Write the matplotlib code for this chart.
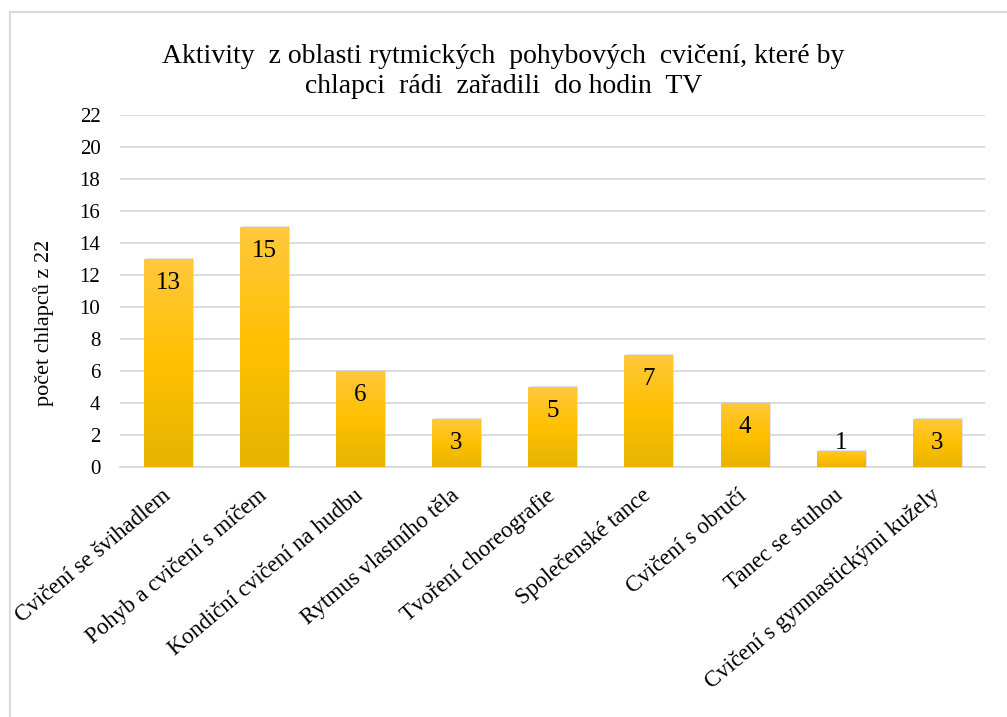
import matplotlib.pyplot as plt
import numpy as np
from matplotlib.colors import LinearSegmentedColormap
from matplotlib.patches import Rectangle

plt.rcParams['font.family'] = ['Liberation Serif', 'DejaVu Serif']

aktivity = ['Cvičení se švihadlem', 'Pohyb a cvičení s míčem', 'Kondiční cvičení na hudbu',
            'Rytmus vlastního těla', 'Tvoření choreografie', 'Společenské tance',
            'Cvičení s obručí', 'Tanec se stuhou', 'Cvičení s gymnastickými kužely']
pocty = [13, 15, 6, 3, 5, 7, 4, 1, 3]
y_ticks = list(range(0, 23, 2))

fig = plt.figure(figsize=(10.07, 7.17), dpi=100)
ax = fig.add_axes([0.119, 0.349, 0.859, 0.491])

x = np.arange(len(aktivity))
bary = ax.bar(x, pocty, width=0.5, color='none', zorder=3)

# gradient vyplne sloupcu
cmap = LinearSegmentedColormap.from_list('zluta', ['#E6B400', '#FFC000', '#FFC83D'])
grad = np.linspace(0, 1, 256).reshape(-1, 1)
for b in bary:
    x0, w, h = b.get_x(), b.get_width(), b.get_height()
    sh = Rectangle((x0 + 0.02, 0), w, h + 0.05, color='#c8c8c8', alpha=0.5, zorder=2, lw=0)
    ax.add_patch(sh)
    im = ax.imshow(grad, extent=[x0, x0 + w, 0, h], origin='lower', cmap=cmap,
                   aspect='auto', zorder=3)
    im.set_clip_path(b)
    # popisek uvnitr u konce sloupce, u kratkych sloupcu dole
    ax.text(x0 + w / 2, max(h - 1.5, 1.5), str(int(h)), ha='center', va='center',
            fontsize=18, zorder=4)

ax.set_xlim(-0.5, len(aktivity) - 0.5)
ax.set_ylim(0, 22)
ax.set_yticks(y_ticks)
ax.tick_params(axis='y', length=0, labelsize=15, pad=14)
ax.tick_params(axis='x', length=0, pad=19)
ax.set_xticks(x)
ax.set_xticklabels(aktivity, rotation=40, ha='right', va='center', rotation_mode='anchor',
                   fontsize=16.5)
ax.grid(axis='y', color='#d9d9d9', lw=1.3, zorder=0)
for s in ['top', 'right', 'left']:
    ax.spines[s].set_visible(False)
ax.spines['bottom'].set_color('#d9d9d9')
ax.spines['bottom'].set_linewidth(1.3)
ax.set_ylabel('počet chlapců z 22', fontsize=16)
ax.yaxis.set_label_coords(-0.076, 0.41)

fig.text(0.5, 0.9, 'Aktivity  z oblasti rytmických  pohybových  cvičení, které by\nchlapci  rádi  zařadili  do hodin  TV',
         ha='center', va='center', fontsize=20, linespacing=1.25)

# ramecek grafu
fig.patches.append(Rectangle((0.01, -0.1), 1.0, 1.083, transform=fig.transFigure,
                             fill=False, edgecolor='#d9d9d9', lw=1.5))

fig.savefig('out.png', dpi=100)
